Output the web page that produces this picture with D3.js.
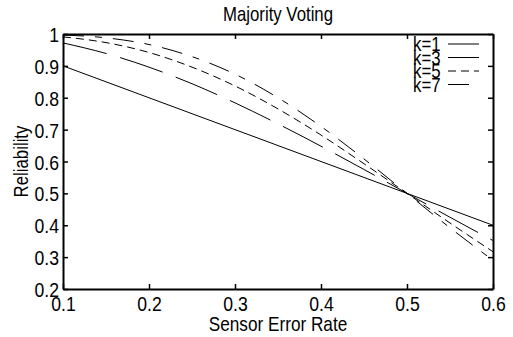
<!DOCTYPE html>
<html>
<head>
<meta charset="utf-8">
<script src="https://cdn.jsdelivr.net/npm/d3@7"></script>
<style>
  body { margin: 0; background: #fff; }
  svg text { font-family: "Liberation Sans", Arial, sans-serif; fill: #000; }
</style>
</head>
<body>
<script>
var width = 513;
var height = 337;

// sensor error rate (x) and reliability of each k
var errorRate = [0.1, 0.15, 0.2, 0.25, 0.3, 0.35, 0.4, 0.45, 0.5, 0.55, 0.6];
var k1 = [0.9, 0.85, 0.8, 0.75, 0.7, 0.65, 0.6, 0.55, 0.5, 0.45, 0.4];
var k3 = [0.972, 0.939, 0.896, 0.844, 0.784, 0.718, 0.648, 0.575, 0.5, 0.425, 0.352];
var k5 = [0.991, 0.973, 0.942, 0.896, 0.837, 0.765, 0.683, 0.593, 0.5, 0.407, 0.317];
var k7 = [0.997, 0.988, 0.967, 0.929, 0.874, 0.800, 0.710, 0.608, 0.5, 0.392, 0.290];

var seriesNames = ["k=1", "k=3", "k=5", "k=7"];
var seriesValues = [k1, k3, k5, k7];
var dashes = [null, "45,14", "8,5", "21,11,7,11"];

var xTicks = [0.1, 0.2, 0.3, 0.4, 0.5, 0.6];
var yTicks = [0.2, 0.3, 0.4, 0.5, 0.6, 0.7, 0.8, 0.9, 1];

var plotLeft = 63, plotRight = 493, plotTop = 34, plotBottom = 289;
var squeeze = 0.84; // the original face is condensed

var svg = d3.select("body")
  .append("svg")
  .attr("width", width)
  .attr("height", height);

var x = d3.scaleLinear().domain([0.1, 0.6]).range([plotLeft, plotRight]);
var y = d3.scaleLinear().domain([0.2, 1]).range([plotBottom, plotTop]);

var line = d3.line()
  .x(function(d, i) { return x(errorRate[i]); })
  .y(function(d) { return y(d); })
  .curve(d3.curveMonotoneX);

// curves
svg.selectAll("path.series")
  .data(seriesValues)
  .enter()
  .append("path")
  .attr("class", "series")
  .attr("d", line)
  .attr("fill", "none")
  .attr("stroke", "#000")
  .attr("stroke-width", 1)
  .attr("stroke-dasharray", function(d, i) { return dashes[i]; });

// axes: ticks point inward
var fmt = function(d) { return d === 1 ? "1" : d3.format(".1f")(d); };

var xAxis = svg.append("g")
  .attr("transform", "translate(0," + plotBottom + ")")
  .call(d3.axisBottom(x).tickValues(xTicks).tickSizeInner(-5).tickSizeOuter(0).tickFormat(fmt));
svg.append("g")
  .attr("transform", "translate(0," + plotTop + ")")
  .call(d3.axisTop(x).tickValues(xTicks).tickSizeInner(-5).tickSizeOuter(0).tickFormat(""));
var yAxis = svg.append("g")
  .attr("transform", "translate(" + plotLeft + ",0)")
  .call(d3.axisLeft(y).tickValues(yTicks).tickSizeInner(-5).tickSizeOuter(0).tickFormat(fmt));
svg.append("g")
  .attr("transform", "translate(" + plotRight + ",0)")
  .call(d3.axisRight(y).tickValues(yTicks).tickSizeInner(-5).tickSizeOuter(0).tickFormat(""));

svg.selectAll("g").attr("font-family", null).attr("font-size", null);
svg.selectAll(".domain").attr("stroke", "#000").attr("stroke-width", 2);
svg.selectAll(".tick line").attr("stroke", "#000").attr("stroke-width", 1.5);

xAxis.selectAll("text")
  .attr("x", 0)
  .attr("y", 22)
  .attr("dy", null)
  .style("font-size", "21px")
  .attr("transform", "scale(" + squeeze + ",1)");
yAxis.selectAll("text")
  .attr("x", -4 / squeeze)
  .attr("y", 7.5)
  .attr("dy", null)
  .style("font-size", "21px")
  .attr("transform", "scale(" + squeeze + ",1)");

// title and axis labels
svg.append("text")
  .attr("transform", "translate(" + (plotLeft + plotRight) / 2 + ",21) scale(" + squeeze + ",1)")
  .attr("text-anchor", "middle")
  .style("font-size", "20px")
  .text("Majority Voting");

svg.append("text")
  .attr("transform", "translate(" + (plotLeft + plotRight) / 2 + ",331) scale(0.86,1)")
  .attr("text-anchor", "middle")
  .style("font-size", "20px")
  .text("Sensor Error Rate");

svg.append("text")
  .attr("transform", "translate(28," + (plotTop + plotBottom) / 2 + ") rotate(-90) scale(" + squeeze + ",1)")
  .attr("text-anchor", "middle")
  .style("font-size", "20px")
  .text("Reliability");

// legend (entries overlap, as in the original)
var legendBox = svg.append("g").attr("opacity", 0.999);

var legend = legendBox.selectAll("g.legend")
  .data(seriesNames)
  .enter()
  .append("g")
  .attr("class", "legend")
  .attr("transform", function(d, i) { return "translate(413," + (44 + i * 13.5) + ")"; });

legend.append("text")
  .attr("transform", "translate(0,7) scale(" + squeeze + ",1)")
  .style("font-size", "20px")
  .text(function(d) { return d; });

legend.append("line")
  .attr("x1", 35)
  .attr("x2", 66)
  .attr("stroke", "#000")
  .attr("stroke-width", 1)
  .attr("stroke-dasharray", function(d, i) { return dashes[i]; });
</script>
</body>
</html>
